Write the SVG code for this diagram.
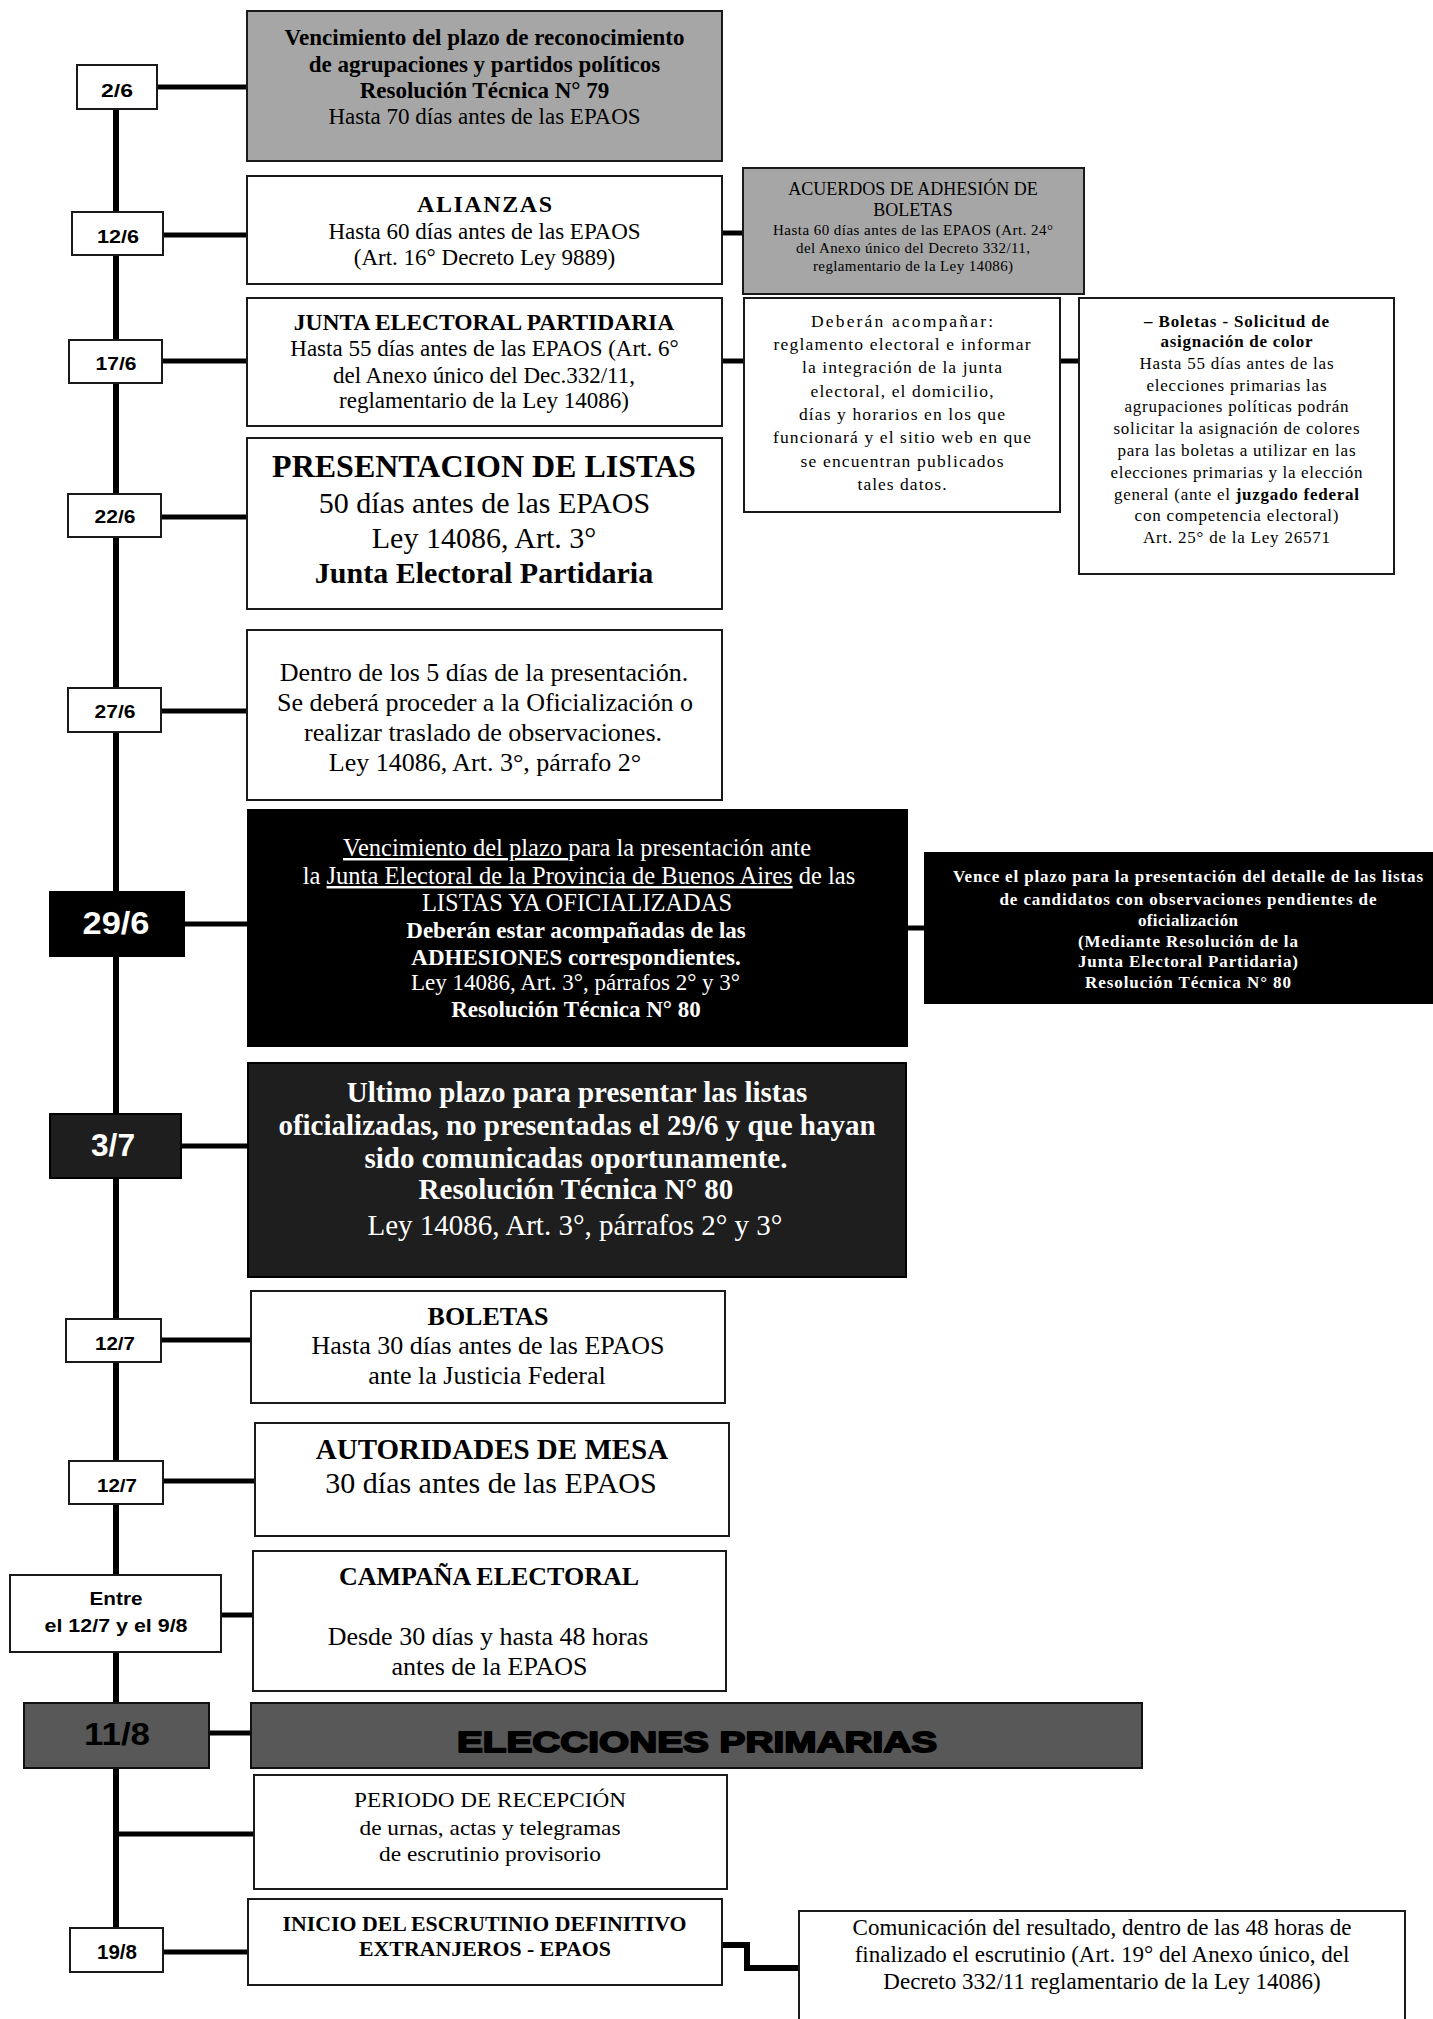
<svg xmlns="http://www.w3.org/2000/svg" width="1433" height="2019" viewBox="0 0 1433 2019">
<style>
.bg{fill:#fff}
.box{fill:#fff;stroke:#1a1a1a;stroke-width:2}
.gray{fill:#a6a6a6;stroke:#1a1a1a;stroke-width:2}
.blk{fill:#000;stroke:#000;stroke-width:2}
.dk{fill:#1e1e1e;stroke:#000;stroke-width:2}
.mid{fill:#585858;stroke:#111;stroke-width:2}
.ln{stroke:#000;stroke-width:5;fill:none}
.tl{stroke:#000;stroke-width:6;fill:none}
text{text-anchor:middle}
.s{font-family:"Liberation Serif","Times New Roman",serif;fill:#000}
.a{font-family:"Liberation Sans",Arial,sans-serif;font-weight:bold;fill:#000}
.b{font-weight:bold}
.w{fill:#fff}
.u{text-decoration:underline}
.big{fill:#000;stroke:#000;stroke-width:1.8;stroke-linejoin:round;paint-order:stroke fill}
</style>
<rect class="bg" x="0" y="0" width="1433" height="2019"/>

<g id="connectors">
<path class="tl" d="M116,109 V1928"/>
<path class="ln" d="M157,87 H247"/>
<path class="ln" d="M163,235 H247"/>
<path class="ln" d="M162,361 H247"/>
<path class="ln" d="M161,517 H247"/>
<path class="ln" d="M161,711 H247"/>
<path class="ln" d="M184,924 H248"/>
<path class="ln" d="M181,1146 H248"/>
<path class="ln" d="M161,1340 H251"/>
<path class="ln" d="M163,1481 H255"/>
<path class="ln" d="M221,1615 H253"/>
<path class="ln" d="M209,1733 H251"/>
<path class="ln" d="M116,1834 H254"/>
<path class="ln" d="M163,1952 H248"/>
<path class="ln" d="M722,233 H743"/>
<path class="ln" d="M722,361 H744"/>
<path class="ln" d="M1060,361 H1079"/>
<path class="ln" d="M907,928 H925"/>
<path class="ln" style="stroke-width:6" d="M722,1945 H747 V1968 H799"/>
</g>

<g id="d-2-6"><rect class="box" x="77" y="65" width="80" height="44"/><text class="a" x="117" y="97" font-size="19" textLength="32" lengthAdjust="spacingAndGlyphs">2/6</text></g>
<g id="d-12-6"><rect class="box" x="72" y="212" width="91" height="43"/><text class="a" x="118" y="243" font-size="19" textLength="42" lengthAdjust="spacingAndGlyphs">12/6</text></g>
<g id="d-17-6"><rect class="box" x="69" y="340" width="93" height="43"/><text class="a" x="116" y="370" font-size="19" textLength="41" lengthAdjust="spacingAndGlyphs">17/6</text></g>
<g id="d-22-6"><rect class="box" x="68" y="494" width="93" height="43"/><text class="a" x="115" y="523" font-size="19" textLength="41" lengthAdjust="spacingAndGlyphs">22/6</text></g>
<g id="d-27-6"><rect class="box" x="68" y="688" width="93" height="44"/><text class="a" x="115" y="718" font-size="19" textLength="41" lengthAdjust="spacingAndGlyphs">27/6</text></g>
<g id="d-29-6"><rect class="blk" x="50" y="892" width="134" height="64"/><text class="a w" x="116" y="934" font-size="31" textLength="67" lengthAdjust="spacingAndGlyphs">29/6</text></g>
<g id="d-3-7"><rect class="dk" x="50" y="1114" width="131" height="64"/><text class="a w" x="113" y="1156" font-size="31" textLength="44" lengthAdjust="spacingAndGlyphs">3/7</text></g>
<g id="d-12-7a"><rect class="box" x="66" y="1319" width="95" height="43"/><text class="a" x="115" y="1350" font-size="19" textLength="40" lengthAdjust="spacingAndGlyphs">12/7</text></g>
<g id="d-12-7b"><rect class="box" x="69" y="1461" width="94" height="43"/><text class="a" x="117" y="1492" font-size="19" textLength="40" lengthAdjust="spacingAndGlyphs">12/7</text></g>
<g id="d-entre"><rect class="box" x="10" y="1575" width="211" height="77"/><text class="a" x="116" y="1605" font-size="19" textLength="53" lengthAdjust="spacingAndGlyphs">Entre</text><text class="a" x="116" y="1632" font-size="19" textLength="143" lengthAdjust="spacingAndGlyphs">el 12/7 y el 9/8</text></g>
<g id="d-11-8"><rect class="mid" x="24" y="1703" width="185" height="65"/><text class="a" x="117" y="1745" font-size="31" textLength="66" lengthAdjust="spacingAndGlyphs">11/8</text></g>
<g id="d-19-8"><rect class="box" x="70" y="1928" width="93" height="44"/><text class="a" x="117" y="1959" font-size="20" textLength="40" lengthAdjust="spacingAndGlyphs">19/8</text></g>

<g id="n-reconocimiento"><rect class="gray" x="247" y="11" width="475" height="150"/>
<text class="s b" x="484.5" y="45" font-size="23">Vencimiento del plazo de reconocimiento</text>
<text class="s b" x="484.5" y="72" font-size="23">de agrupaciones y partidos políticos</text>
<text class="s b" x="484.5" y="98" font-size="23">Resolución Técnica N° 79</text>
<text class="s" x="484.5" y="124" font-size="23">Hasta 70 días antes de las EPAOS</text></g>

<g id="n-alianzas"><rect class="box" x="247" y="176" width="475" height="108"/>
<text class="s b" x="484.5" y="212" font-size="24" textLength="135" lengthAdjust="spacing">ALIANZAS</text>
<text class="s" x="484.5" y="239" font-size="23">Hasta 60 días antes de las EPAOS</text>
<text class="s" x="484.5" y="265" font-size="23">(Art. 16° Decreto Ley 9889)</text></g>

<g id="n-acuerdos"><rect class="gray" x="743" y="168" width="341" height="126"/>
<text class="s" x="913" y="195" font-size="18">ACUERDOS DE ADHESIÓN DE</text>
<text class="s" x="913" y="215.5" font-size="18">BOLETAS</text>
<text class="s" x="913" y="235" font-size="15" textLength="280" lengthAdjust="spacing">Hasta 60 días antes de las EPAOS (Art. 24°</text>
<text class="s" x="913" y="252.5" font-size="15" textLength="234" lengthAdjust="spacing">del Anexo único del Decreto 332/11,</text>
<text class="s" x="913" y="270.5" font-size="15" textLength="200" lengthAdjust="spacing">reglamentario de la Ley 14086)</text></g>

<g id="n-junta"><rect class="box" x="247" y="298" width="475" height="128"/>
<text class="s b" x="484" y="330" font-size="23.5">JUNTA ELECTORAL PARTIDARIA</text>
<text class="s" x="484.5" y="356" font-size="23">Hasta 55 días antes de las EPAOS (Art. 6°</text>
<text class="s" x="484" y="382.5" font-size="23">del Anexo único del Dec.332/11,</text>
<text class="s" x="484" y="408" font-size="23">reglamentario de la Ley 14086)</text></g>

<g id="n-deberan"><rect class="box" x="744" y="298" width="316" height="214"/>
<text class="s" x="902" y="326.5" font-size="17.5" textLength="182" lengthAdjust="spacing">Deberán acompañar:</text>
<text class="s" x="902" y="349.5" font-size="17.5" textLength="257" lengthAdjust="spacing">reglamento electoral e informar</text>
<text class="s" x="902" y="373" font-size="17.5" textLength="200" lengthAdjust="spacing">la integración de la junta</text>
<text class="s" x="902" y="396.5" font-size="17.5" textLength="183" lengthAdjust="spacing">electoral, el domicilio,</text>
<text class="s" x="902" y="420" font-size="17.5" textLength="206" lengthAdjust="spacing">días y horarios en los que</text>
<text class="s" x="902" y="443" font-size="17.5" textLength="258" lengthAdjust="spacing">funcionará y el sitio web en que</text>
<text class="s" x="902" y="466.5" font-size="17.5" textLength="203" lengthAdjust="spacing">se encuentran publicados</text>
<text class="s" x="902" y="490" font-size="17.5" textLength="89" lengthAdjust="spacing">tales datos.</text></g>

<g id="n-color"><rect class="box" x="1079" y="298" width="315" height="276"/>
<text class="s b" x="1236.5" y="326.5" font-size="17" textLength="185" lengthAdjust="spacing">– Boletas - Solicitud de</text>
<text class="s b" x="1236.5" y="347" font-size="17" textLength="152" lengthAdjust="spacing">asignación de color</text>
<text class="s" x="1236.5" y="368.5" font-size="17" textLength="194" lengthAdjust="spacing">Hasta 55 días antes de las</text>
<text class="s" x="1236.5" y="390.5" font-size="17" textLength="180" lengthAdjust="spacing">elecciones primarias las</text>
<text class="s" x="1236.5" y="412" font-size="17" textLength="224" lengthAdjust="spacing">agrupaciones políticas podrán</text>
<text class="s" x="1236.5" y="434" font-size="17" textLength="246" lengthAdjust="spacing">solicitar la asignación de colores</text>
<text class="s" x="1236.5" y="456" font-size="17" textLength="238" lengthAdjust="spacing">para las boletas a utilizar en las</text>
<text class="s" x="1236.5" y="477.5" font-size="17" textLength="252" lengthAdjust="spacing">elecciones primarias y la elección</text>
<text class="s" x="1236.5" y="499.5" font-size="17" textLength="245" lengthAdjust="spacing">general (ante el <tspan class="b">juzgado federal</tspan></text>
<text class="s" x="1236.5" y="521" font-size="17" textLength="204" lengthAdjust="spacing">con competencia electoral)</text>
<text class="s" x="1236.5" y="542.5" font-size="17" textLength="187" lengthAdjust="spacing">Art. 25° de la Ley 26571</text></g>

<g id="n-presentacion"><rect class="box" x="247" y="438" width="475" height="171"/>
<text class="s b" x="484" y="477" font-size="32">PRESENTACION DE LISTAS</text>
<text class="s" x="484.5" y="513" font-size="30">50 días antes de las EPAOS</text>
<text class="s" x="484" y="548" font-size="30">Ley 14086, Art. 3°</text>
<text class="s b" x="484" y="583" font-size="30">Junta Electoral Partidaria</text></g>

<g id="n-oficializacion"><rect class="box" x="247" y="630" width="475" height="170"/>
<text class="s" x="484" y="681" font-size="26">Dentro de los 5 días de la presentación.</text>
<text class="s" x="485" y="711" font-size="26">Se deberá proceder a la Oficialización o</text>
<text class="s" x="483" y="741" font-size="26">realizar traslado de observaciones.</text>
<text class="s" x="485" y="771" font-size="26">Ley 14086, Art. 3°, párrafo 2°</text></g>

<g id="n-listas-oficializadas"><rect class="blk" x="248" y="810" width="659" height="236"/>
<text class="s w" x="577" y="856" font-size="24.5"><tspan class="u">Vencimiento del plazo </tspan>para la presentación ante</text>
<text class="s w" x="579" y="884" font-size="24.5">la <tspan class="u">Junta Electoral de la Provincia de Buenos Aires</tspan> de las</text>
<text class="s w" x="577" y="911" font-size="24.5">LISTAS YA OFICIALIZADAS</text>
<text class="s b w" x="576" y="938" font-size="23">Deberán estar acompañadas de las</text>
<text class="s b w" x="576" y="965" font-size="23">ADHESIONES correspondientes.</text>
<text class="s w" x="575.5" y="990" font-size="23">Ley 14086, Art. 3°,  párrafos 2° y 3°</text>
<text class="s b w" x="576" y="1017" font-size="23">Resolución Técnica N° 80</text></g>

<g id="n-observaciones"><rect class="blk" x="925" y="853" width="520" height="150"/>
<text class="s b w" x="1188" y="882" font-size="17" textLength="470" lengthAdjust="spacing">Vence el plazo para la presentación del detalle de las listas</text>
<text class="s b w" x="1188" y="905" font-size="17" textLength="377" lengthAdjust="spacing">de candidatos con observaciones pendientes de</text>
<text class="s b w" x="1188" y="926" font-size="17" textLength="100" lengthAdjust="spacing">oficialización</text>
<text class="s b w" x="1188" y="946.5" font-size="17" textLength="220" lengthAdjust="spacing">(Mediante Resolución de la</text>
<text class="s b w" x="1188" y="967" font-size="17" textLength="220" lengthAdjust="spacing">Junta Electoral Partidaria)</text>
<text class="s b w" x="1188" y="988" font-size="17" textLength="206" lengthAdjust="spacing">Resolución Técnica N° 80</text></g>

<g id="n-ultimo-plazo"><rect class="dk" x="248" y="1063" width="658" height="214"/>
<text class="s b w" x="577" y="1102" font-size="29">Ultimo plazo para presentar las listas</text>
<text class="s b w" x="577" y="1135" font-size="29">oficializadas, no presentadas el 29/6 y que hayan</text>
<text class="s b w" x="576" y="1168" font-size="29">sido comunicadas oportunamente.</text>
<text class="s b w" x="576" y="1199" font-size="29">Resolución Técnica N° 80</text>
<text class="s w" x="575" y="1235" font-size="29">Ley 14086, Art. 3°, párrafos 2° y 3°</text></g>

<g id="n-boletas"><rect class="box" x="251" y="1291" width="474" height="112"/>
<text class="s b" x="488" y="1325" font-size="26">BOLETAS</text>
<text class="s" x="488" y="1354" font-size="26">Hasta 30 días antes de las EPAOS</text>
<text class="s" x="487" y="1384" font-size="26">ante la Justicia Federal</text></g>

<g id="n-autoridades"><rect class="box" x="255" y="1423" width="474" height="113"/>
<text class="s b" x="492" y="1459" font-size="29">AUTORIDADES DE MESA</text>
<text class="s" x="491" y="1493" font-size="30">30 días antes de las EPAOS</text></g>

<g id="n-campana"><rect class="box" x="253" y="1551" width="473" height="140"/>
<text class="s b" x="489" y="1585" font-size="26">CAMPAÑA ELECTORAL</text>
<text class="s" x="488" y="1645" font-size="26">Desde 30 días y hasta 48 horas</text>
<text class="s" x="489.5" y="1675" font-size="26">antes de la EPAOS</text></g>

<g id="n-elecciones"><rect class="mid" x="251" y="1703" width="891" height="65"/>
<text class="a big" x="697" y="1752" font-size="30" textLength="480" lengthAdjust="spacingAndGlyphs">ELECCIONES PRIMARIAS</text></g>

<g id="n-recepcion"><rect class="box" x="254" y="1775" width="473" height="114"/>
<text class="s" x="490" y="1807" font-size="22" textLength="272" lengthAdjust="spacingAndGlyphs">PERIODO DE RECEPCIÓN</text>
<text class="s" x="490" y="1834.5" font-size="22" textLength="261" lengthAdjust="spacingAndGlyphs">de urnas, actas y telegramas</text>
<text class="s" x="490" y="1860.5" font-size="22" textLength="222" lengthAdjust="spacingAndGlyphs">de escrutinio provisorio</text></g>

<g id="n-escrutinio"><rect class="box" x="248" y="1899" width="474" height="86"/>
<text class="s b" x="484.5" y="1930.5" font-size="21.5" textLength="404" lengthAdjust="spacingAndGlyphs">INICIO DEL ESCRUTINIO DEFINITIVO</text>
<text class="s b" x="485" y="1955.5" font-size="21.5" textLength="252" lengthAdjust="spacingAndGlyphs">EXTRANJEROS - EPAOS</text></g>

<g id="n-comunicacion"><rect class="box" x="799" y="1911" width="606" height="130"/>
<text class="s" x="1102" y="1935" font-size="23">Comunicación del resultado, dentro de las 48 horas de</text>
<text class="s" x="1102" y="1962" font-size="23">finalizado el escrutinio (Art. 19° del Anexo único, del</text>
<text class="s" x="1102" y="1988.5" font-size="23">Decreto 332/11 reglamentario de la  Ley 14086)</text></g>
</svg>
